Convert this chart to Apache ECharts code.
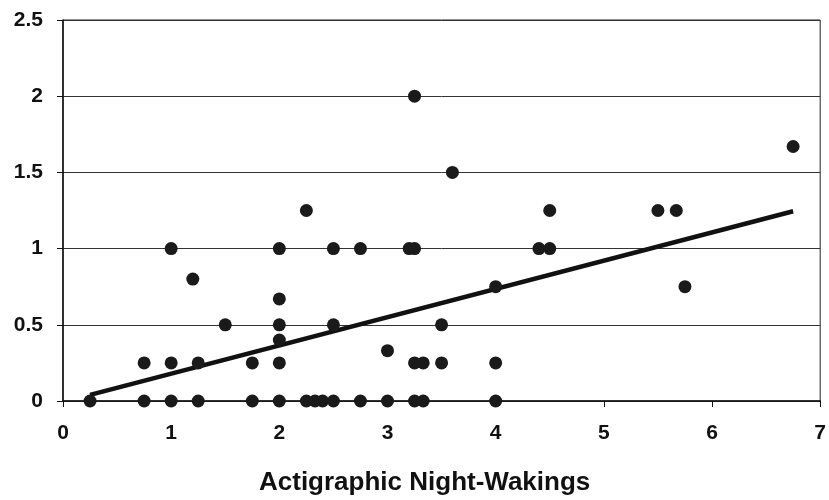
<!DOCTYPE html>
<html>
<head>
<meta charset="utf-8">
<script src="https://cdn.jsdelivr.net/npm/echarts@6/dist/echarts.min.js"></script>
<style>
html,body{margin:0;padding:0;background:#fff;}
#chart{width:829px;height:500px;}
</style>
</head>
<body>
<div id="chart"></div>
<script>
// Scatter data (x = actigraphic night-wakings, y = value)
const pointsX = [
  0.25, 0.75, 1, 1.25, 1.75, 2, 2.25, 2.33, 2.4, 2.5, 2.75, 3, 3.25, 3.33, 4,
  0.75, 1, 1.25, 1.75, 2, 3.25, 3.33, 3.5, 4,
  3,
  2,
  1.5, 2, 2.5, 3.5,
  2,
  4, 5.75,
  1.2,
  1, 2, 2.5, 2.75, 3.2, 3.25, 4.4, 4.5,
  2.25, 4.5, 5.5, 5.67,
  3.6,
  6.75,
  3.25
];
const pointsY = [
  0, 0, 0, 0, 0, 0, 0, 0, 0, 0, 0, 0, 0, 0, 0,
  0.25, 0.25, 0.25, 0.25, 0.25, 0.25, 0.25, 0.25, 0.25,
  0.33,
  0.4,
  0.5, 0.5, 0.5, 0.5,
  0.67,
  0.75, 0.75,
  0.8,
  1, 1, 1, 1, 1, 1, 1, 1,
  1.25, 1.25, 1.25, 1.25,
  1.5,
  1.67,
  2
];
// Trend line endpoints
const trendX = [0.25, 6.75];
const trendY = [0.04, 1.245];

const xTitle = 'Actigraphic Night-Wakings';

const scatterData = pointsX.map((x, i) => [x, pointsY[i]]);
const trendData = trendX.map((x, i) => [x, trendY[i]]);

const chart = echarts.init(document.getElementById('chart'), null, {renderer: 'canvas'});
const labelFont = {fontFamily: 'Liberation Sans, Arial, sans-serif', fontWeight: 'bold', fontSize: 21, color: '#111'};
chart.setOption({
  animation: false,
  backgroundColor: '#fff',
  grid: {left: 63, right: 7, top: 20, bottom: 99, show: true, borderColor: '#222', borderWidth: 1, backgroundColor: 'transparent'},
  xAxis: {
    type: 'value', min: 0, max: 7, interval: 1,
    axisLine: {show: true, onZero: false, lineStyle: {color: '#111', width: 1.5}},
    axisTick: {show: true, length: 6, lineStyle: {color: '#111'}},
    axisLabel: Object.assign({margin: 22}, labelFont),
    splitLine: {show: false}
  },
  yAxis: {
    type: 'value', min: 0, max: 2.5, interval: 0.5,
    axisLine: {show: true, lineStyle: {color: '#111', width: 1.5}},
    axisTick: {show: true, length: 6, lineStyle: {color: '#111'}},
    axisLabel: Object.assign({margin: 20}, labelFont),
    splitLine: {show: true, lineStyle: {color: '#333', width: 1}}
  },
  graphic: [{
    type: 'text', left: 259, top: 470,
    style: {text: xTitle, font: 'bold 26px "Liberation Sans", Arial, sans-serif', fill: '#111'}
  }],
  series: [
    {
      type: 'line', data: trendData, symbol: 'none', z: 3,
      lineStyle: {color: '#111', width: 4.5, cap: 'butt'}
    },
    {
      type: 'scatter', data: scatterData, symbol: 'circle', symbolSize: 13, z: 4,
      itemStyle: {color: '#1a1a1a', opacity: 1}
    }
  ]
});
</script>
</body>
</html>
